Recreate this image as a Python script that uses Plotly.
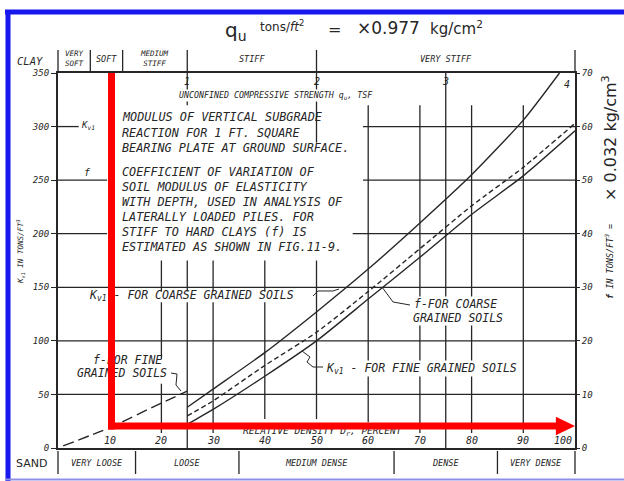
import plotly.graph_objects as go

# ---------------- data ----------------
# bottom scale: relative density of sands, D_r (%)
dr_ticks = [10, 20, 30, 40, 50, 60, 70, 80, 90, 100]
# top scale: unconfined compressive strength of clays, q_u (tsf)
qu_ticks = [1, 2, 3, 4]
# left scale K_v1 (tons/ft^3), right scale f (tons/ft^3)
kv1_ticks = [0, 50, 100, 150, 200, 250, 300, 350]
f_ticks = [0, 10, 20, 30, 40, 50, 60, 70]

# consistency / density classes with their limits on each scale
clay_bounds_qu = [0, 0.25, 0.5, 1, 2, 4]
clay_classes = ["VERY<br>SOFT", "SOFT", "MEDIUM<br>STIFF", "STIFF", "VERY STIFF"]
sand_bounds_dr = [0, 15, 35, 65, 85, 100]
sand_classes = ["VERY LOOSE", "LOOSE", "MEDIUM DENSE", "DENSE", "VERY DENSE"]

# K_v1 for coarse grained soils vs D_r
kv1_coarse_dr = [25, 30, 40, 50, 60, 70, 80, 90, 97]
kv1_coarse = [38, 55, 89, 127, 167, 210, 255, 306, 350]
# f for coarse grained soils vs D_r
f_coarse_dr = [25, 30, 40, 50, 60, 70, 80, 90, 100]
f_coarse = [6.0, 8.8, 15.4, 21.6, 29.2, 37.2, 45.2, 52.4, 60.6]
# K_v1 for fine grained soils vs q_u
kv1_fine_qu = [1.0, 1.2, 1.6, 2.0, 2.4, 2.8, 3.2, 3.6, 4.0]
kv1_fine = [22, 36, 67, 100, 139, 178, 218, 254, 296]
# f for fine grained soils vs q_u
f_fine_qu = [0.04, 0.4, 0.8, 1.0]
f_fine = [0.4, 3.8, 8.4, 10.6]

# ---------------- styling ----------------
W, H = 624, 481
ML, MR, MT, MB = 58, 49, 73, 33
INK = "#262626"
HAND = "DejaVu Sans Mono"
SANS = "DejaVu Sans"
X0, X1 = ML, W - MR
Y0, Y1 = H - MB, MT


def PX(x):
    return (x - X0) / (X1 - X0)


def PY(y):
    return (Y0 - y) / (Y0 - Y1)


def DX(x):
    return (x - X0) / (X1 - X0) * 100


def DY(y):
    return (Y0 - y) / (Y0 - Y1) * 350


def hfont(size, family=HAND, italic=True, color=INK):
    d = dict(family=family, size=size, color=color)
    if italic:
        d["style"] = "italic"
    return d


fig = go.Figure()

# grid segments (D_r or K_v1 position, start, end)
v_grid = [
    (20, 14, 60), (20, 83, 136), (20, 146, 175),
    (25, 0, 136), (25, 146, 175), (25, 320, 350),
    (30, 14, 136), (30, 146, 175),
    (40, 27, 136), (40, 146, 175),
    (50, 27, 175), (50, 285, 350),
    (60, 24, 320), (70, 14, 320), (75, 0, 350), (80, 14, 320), (90, 14, 320),
]
h_grid = [
    (300, 0, 4), (300, 59, 100),
    (250, 0, 9.5), (250, 59, 100),
    (200, 0, 9.5), (200, 57, 100),
    (150, 0, 100), (100, 0, 100), (50, 0, 100),
]
shapes = []
for x, a, b in v_grid:
    shapes.append(dict(type="line", xref="x", yref="y", x0=x, x1=x, y0=a, y1=b,
                       line=dict(color=INK, width=1.3), layer="below"))
for y, a, b in h_grid:
    shapes.append(dict(type="line", xref="x", yref="y", x0=a, x1=b, y0=y, y1=y,
                       line=dict(color=INK, width=1.3), layer="below"))

# class separators above and below the chart
for q in clay_bounds_qu:
    xp = PX(X0 + q * 25 / 100 * (X1 - X0))
    shapes.append(dict(type="line", xref="paper", yref="paper", x0=xp, x1=xp,
                       y0=PY(50), y1=PY(71), line=dict(color=INK, width=1.3)))
for d in sand_bounds_dr:
    xp = d / 100
    shapes.append(dict(type="line", xref="paper", yref="paper", x0=xp, x1=xp,
                       y0=PY(451), y1=PY(474), line=dict(color=INK, width=1.3)))

# leader lines from labels to curves (pixel paths)
leaders = [
    [(313, 296), (318, 291), (333, 291), (339, 289)],
    [(171, 373), (177, 374), (176, 385), (181, 391)],
    [(382, 287), (393, 302), (410, 305)],
    [(302, 351), (310, 357), (307, 362), (313, 367), (323, 367)],
]
for pts in leaders:
    path = "M " + " L ".join(f"{PX(x):.4f},{PY(y):.4f}" for x, y in pts)
    shapes.append(dict(type="path", xref="paper", yref="paper", path=path,
                       line=dict(color=INK, width=1)))

# curves
fig.add_trace(go.Scatter(x=kv1_coarse_dr, y=kv1_coarse, mode="lines",
                         line=dict(color=INK, width=1.4, shape="spline", smoothing=0.6),
                         xaxis="x", yaxis="y", hoverinfo="skip"))
fig.add_trace(go.Scatter(x=f_coarse_dr, y=f_coarse, mode="lines",
                         line=dict(color=INK, width=1.4, dash="5px,3px", shape="spline",
                                   smoothing=0.6),
                         xaxis="x", yaxis="y2", hoverinfo="skip"))
fig.add_trace(go.Scatter(x=kv1_fine_qu, y=kv1_fine, mode="lines",
                         line=dict(color=INK, width=1.4, shape="spline", smoothing=0.6),
                         xaxis="x2", yaxis="y", hoverinfo="skip"))
fig.add_trace(go.Scatter(x=f_fine_qu, y=f_fine, mode="lines",
                         line=dict(color=INK, width=1.4, dash="11px,5px", shape="spline",
                                   smoothing=0.6),
                         xaxis="x2", yaxis="y2", hoverinfo="skip"))

# labels that sit under the red overlay are drawn as text traces
under = [
    ("K<sub>v1</sub> - FOR COARSE GRAINED SOILS", 90, 296, 11.5),
    ("f-FOR FINE", 93, 361, 11.5),
    ("GRAINED SOILS", 77, 374, 11.5),
    ("RELATIVE DENSITY D<sub>r</sub>, PERCENT", 243, 432, 9.5),
]
for t, x, y, s in under:
    fig.add_trace(go.Scatter(x=[DX(x)], y=[DY(y)], mode="text", text=[t],
                             textposition="middle right", textfont=hfont(s),
                             hoverinfo="skip", cliponaxis=False))

ann = []


def A(text, x, y, size, xanchor="center", family=HAND, italic=True, bg=None,
      angle=0, yanchor="middle", align="center"):
    d = dict(text=text, x=PX(x), y=PY(y), xref="paper", yref="paper",
             showarrow=False, xanchor=xanchor, yanchor=yanchor,
             font=hfont(size, family, italic), textangle=angle, align=align)
    if bg:
        d["bgcolor"] = bg
        d["borderpad"] = 0
    ann.append(d)


# header
A("q<sub>u</sub>", 236, 31, 20, family=SANS, italic=False)
A("tons/<i>ft</i><sup>2</sup>", 282, 26, 12, family=SANS, italic=False)
A("=", 334, 30, 16, family=SANS, italic=False)
A("×0.977", 388, 28, 17, family=SANS, italic=False)
A("kg/cm<sup>2</sup>", 428, 28, 15, family=SANS, italic=False, xanchor="left")

# class rows
A("CLAY", 30, 61, 10.5)
for i, c in enumerate(clay_classes):
    qm = (clay_bounds_qu[i] + clay_bounds_qu[i + 1]) / 2
    xpix = X0 + qm * 25 / 100 * (X1 - X0)
    A(c, xpix, 59, 7.5 if "<br>" in c else 8.5)
A("SAND", 31, 463, 11, family=SANS, italic=False)
for i, c in enumerate(sand_classes):
    dm = (sand_bounds_dr[i] + sand_bounds_dr[i + 1]) / 2
    A(c, X0 + dm / 100 * (X1 - X0), 463, 8.5)

# scale labels inside the frame
for d in dr_ticks:
    xa = "right" if d == 100 else "center"
    xp = X0 + d / 100 * (X1 - X0) + (-1 if d == 100 else 0)
    A(str(d), xp, 440, 10, xanchor=xa)
for q in qu_ticks:
    xp = X0 + q * 25 / 100 * (X1 - X0)
    if q == 4:
        A(str(q), xp - 3, 84, 10, xanchor="right")
    else:
        A(str(q), xp, 81, 10)
A("UNCONFINED COMPRESSIVE STRENGTH q<sub>u</sub>, TSF", 276, 95, 8.3, bg="white")

# description block
A("K<sub>v1</sub>", 88, 125, 9)
A("f", 87, 172, 10)
desc = [
    ("MODULUS OF VERTICAL SUBGRADE", 117),
    ("REACTION FOR 1 FT. SQUARE", 133),
    ("BEARING PLATE AT GROUND SURFACE.", 148),
    ("COEFFICIENT OF VARIATION OF", 172),
    ("SOIL MODULUS OF ELASTICITY", 187),
    ("WITH DEPTH, USED IN ANALYSIS OF", 202),
    ("LATERALLY LOADED PILES. FOR", 217),
    ("STIFF TO HARD CLAYS (f) IS", 232),
    ("ESTIMATED AS SHOWN IN FIG.11-9.", 247),
]
for t, y in desc:
    A(t, 120, y, 11.8, xanchor="left")

A("f-FOR COARSE", 413, 304, 11.5, xanchor="left", bg="white")
A("GRAINED SOILS", 412, 318, 11.5, xanchor="left", bg="white")
A("K<sub>v1</sub> - FOR FINE GRAINED SOILS", 325, 368, 11.5, xanchor="left", bg="white")

# axis titles
A("K<sub>v1</sub> IN TONS/FT<sup>3</sup>", 20, 252, 7.5, angle=-90)
A("<b>f</b> IN TONS/FT<sup>3</sup> =", 609, 262, 8.5, angle=-90)
A("× 0.032 kg/cm<sup>3</sup>", 609, 138, 16, family=SANS, italic=False, angle=-90)

# frame and red guide overlay
BLUE = "#1717ee"
shapes += [
    dict(type="line", xref="paper", yref="paper", x0=PX(5), x1=PX(624), y0=PY(12), y1=PY(12),
         line=dict(color=BLUE, width=5), layer="above"),
    dict(type="line", xref="paper", yref="paper", x0=PX(8), x1=PX(8), y0=PY(10), y1=PY(481),
         line=dict(color=BLUE, width=5), layer="above"),
    dict(type="line", xref="paper", yref="paper", x0=PX(5), x1=PX(624), y0=PY(479.5), y1=PY(479.5),
         line=dict(color="#8f8fe8", width=2), layer="above"),
]
RX, RY = 10.35, 20.5
RED = "#ff0000"
shapes += [
    dict(type="line", xref="x", yref="y", x0=RX, x1=RX, y0=350, y1=RY - 3.3,
         line=dict(color=RED, width=7), layer="above"),
    dict(type="line", xref="x", yref="y", x0=RX - 0.68, x1=96.6, y0=RY, y1=RY,
         line=dict(color=RED, width=7), layer="above"),
    dict(type="path", xref="x", yref="y",
         path=f"M 96.3,{RY + 8.6} L 100,{RY} L 96.3,{RY - 8.6} Z",
         fillcolor=RED, line=dict(color=RED, width=0), layer="above"),
]

axis_common = dict(showgrid=False, zeroline=False)
fig.update_layout(
    width=W, height=H, autosize=False,
    margin=dict(l=ML, r=MR, t=MT, b=MB, pad=0),
    paper_bgcolor="white", plot_bgcolor="white",
    showlegend=False,
    xaxis=dict(range=[0, 100], showticklabels=False, ticks="", showline=True,
               linecolor=INK, linewidth=1.6, mirror=True, **axis_common),
    xaxis2=dict(range=[0, 4], overlaying="x", side="top", showticklabels=False,
                ticks="", showline=False, **axis_common),
    yaxis=dict(range=[0, 350], tickvals=kv1_ticks, ticks="outside", ticklen=5,
               tickcolor=INK, tickfont=hfont(9), showline=True, linecolor=INK,
               linewidth=2.2, mirror=True, **axis_common),
    yaxis2=dict(range=[0, 70], overlaying="y", side="right", tickvals=f_ticks,
                ticks="outside", ticklen=4, tickcolor=INK, tickfont=hfont(9),
                showline=False, **axis_common),
    shapes=shapes,
    annotations=ann,
)

fig.write_html("out.html")
